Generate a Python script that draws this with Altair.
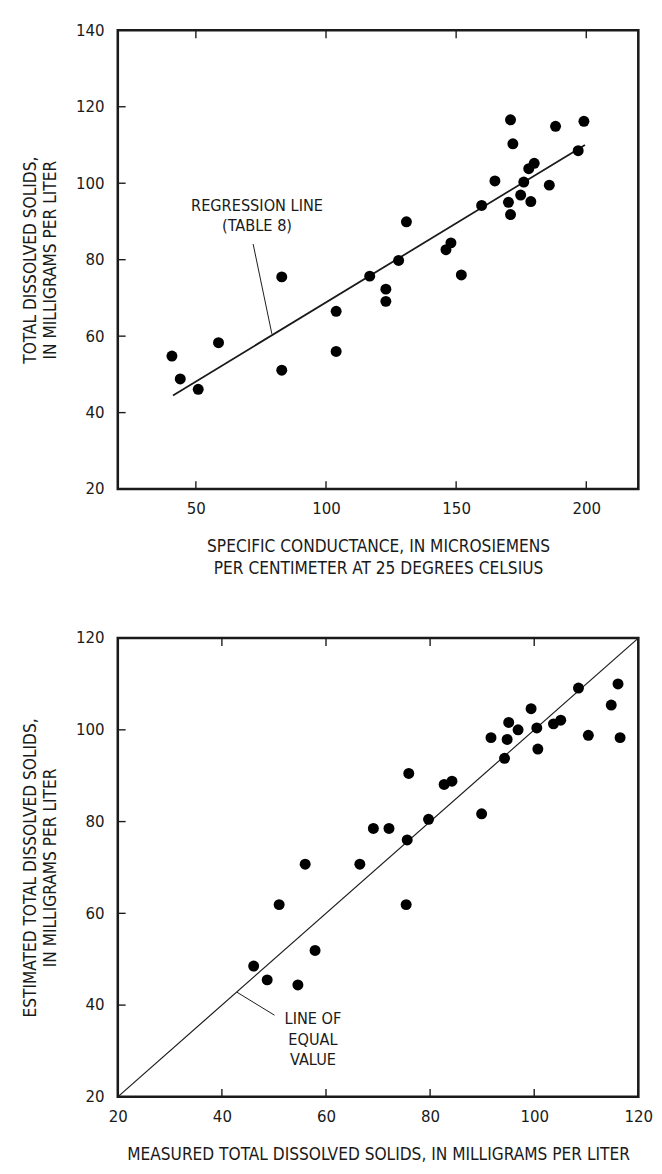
import altair as alt
import pandas as pd

# ---------- data ----------
# Top panel: specific conductance vs total dissolved solids
sc = [170.9, 199.1, 188.2, 171.8, 196.9, 180.0, 177.9, 164.9, 176.0, 185.8,
      174.8, 170.1, 178.7, 159.8, 170.9, 130.9, 148.0, 146.1, 127.9, 83.0,
      116.8, 123.0, 123.0, 103.9, 152.0, 58.7, 40.8, 44.0, 50.9, 83.0, 103.9]
tds = [116.6, 116.2, 114.9, 110.3, 108.5, 105.2, 103.8, 100.6, 100.3, 99.5,
       96.9, 95.0, 95.2, 94.2, 91.8, 89.9, 84.4, 82.6, 79.8, 75.5,
       75.7, 72.3, 69.1, 66.5, 76.0, 58.3, 54.8, 48.8, 46.1, 51.1, 56.0]

# regression line end points (as drawn)
reg_sc = [41.2, 199.5]
reg_tds = [44.5, 110.0]

# regression label and leader
reg_label_text = ["REGRESSION LINE", "(TABLE 8)"]
reg_label_sc = [73.5, 73.5]
reg_label_tds = [94.1, 88.8]
reg_leader_sc = [72.0, 79.2]
reg_leader_tds = [84.1, 60.6]

# Bottom panel: measured vs estimated TDS
measured = [108.5, 116.1, 114.8, 99.4, 95.1, 105.1, 103.7, 96.9, 100.5, 91.7,
            94.8, 110.4, 116.5, 100.7, 94.3, 75.9, 84.2, 82.7, 89.9, 79.7,
            69.1, 72.1, 75.6, 56.0, 66.5, 51.0, 75.4, 57.9, 46.1, 48.7, 54.6]
estimated = [109.1, 110.0, 105.4, 104.6, 101.6, 102.1, 101.3, 100.0, 100.4, 98.3,
             97.9, 98.8, 98.3, 95.8, 93.8, 90.5, 88.8, 88.1, 81.7, 80.5,
             78.5, 78.5, 76.0, 70.7, 70.7, 61.9, 61.9, 51.9, 48.5, 45.5, 44.4]

equal_line = [20, 120]
eq_label_text = ["LINE OF", "EQUAL", "VALUE"]
eq_label_x = [57.5, 57.5, 57.5]
eq_label_y = [36.9, 32.3, 27.9]
eq_leader_x = [42.9, 50.1]
eq_leader_y = [42.8, 37.8]

# axis ticks / domains
top_x_domain = [20, 220]
top_y_domain = [20, 140]
top_x_ticks = [50, 100, 150, 200]
top_y_ticks = [20, 40, 60, 80, 100, 120, 140]
bot_domain = [20, 120]
bot_ticks = [20, 40, 60, 80, 100, 120]

top_x_title = ["SPECIFIC CONDUCTANCE, IN MICROSIEMENS",
               "PER CENTIMETER AT 25 DEGREES CELSIUS"]
top_y_title = ["TOTAL DISSOLVED SOLIDS,", "IN MILLIGRAMS PER LITER"]
bot_x_title = "MEASURED TOTAL DISSOLVED SOLIDS, IN MILLIGRAMS PER LITER"
bot_y_title = ["ESTIMATED TOTAL DISSOLVED SOLIDS,", "IN MILLIGRAMS PER LITER"]

# ---------- styling ----------
FONT = "DejaVu Sans Condensed, Liberation Sans Narrow, Arial Narrow, sans-serif"
INK = "#1a1a1a"
DOTC = "#000000"
W, H = 531, 468
TICK = 8
FS_LABEL = 17
FS_TITLE = 17.5
DOT = 125


def panel(xname, yname, xdom, ydom, xticks, yticks, xtitle, ytitle,
          pts, extra_layers):
    xs = alt.Scale(domain=xdom, nice=False, zero=False)
    ys = alt.Scale(domain=ydom, nice=False, zero=False)
    xax = alt.Axis(values=xticks, ticks=False, tickSize=0, domain=False, grid=False,
                   labelPadding=12, title=xtitle, titlePadding=22,
                   labelFontSize=FS_LABEL, titleFontSize=FS_TITLE,
                   labelFont=FONT, titleFont=FONT, labelColor=INK, titleColor=INK,
                   titleFontWeight="normal", titleLineHeight=22, labelFlush=False)
    yax = alt.Axis(values=yticks, ticks=False, tickSize=0, domain=False, grid=False,
                   labelPadding=14, title=ytitle, titlePadding=16,
                   labelFontSize=FS_LABEL, titleFontSize=FS_TITLE,
                   labelFont=FONT, titleFont=FONT, labelColor=INK, titleColor=INK,
                   titleFontWeight="normal", titleLineHeight=21, labelFlush=False)

    base_pts = alt.Chart(pts).mark_circle(size=DOT, color=DOTC, opacity=1).encode(
        x=alt.X(f"{xname}:Q", scale=xs, axis=xax),
        y=alt.Y(f"{yname}:Q", scale=ys, axis=yax),
    )

    xt = pd.DataFrame({"v": xticks})
    yt = pd.DataFrame({"v": yticks})
    tick_top = alt.Chart(xt).mark_rule(color=INK, strokeWidth=1.4).encode(
        x=alt.X("v:Q", scale=xs), y=alt.value(0), y2=alt.value(TICK))
    tick_bot = alt.Chart(xt).mark_rule(color=INK, strokeWidth=1.4).encode(
        x=alt.X("v:Q", scale=xs), y=alt.value(H), y2=alt.value(H - TICK))
    tick_left = alt.Chart(yt).mark_rule(color=INK, strokeWidth=1.4).encode(
        y=alt.Y("v:Q", scale=ys), x=alt.value(0), x2=alt.value(TICK))

    layers = [tick_top, tick_bot, tick_left] + [l(xs, ys) for l in extra_layers] + [base_pts]
    return alt.layer(*layers).properties(width=W, height=H)


top_pts = pd.DataFrame({"sc": sc, "tds": tds})
reg_df = pd.DataFrame({"x": reg_sc, "y": reg_tds})
reg_lab = pd.DataFrame({"x": reg_label_sc, "y": reg_label_tds, "t": reg_label_text})
reg_lead = pd.DataFrame({"x": [reg_leader_sc[0]], "y": [reg_leader_tds[0]],
                         "x2": [reg_leader_sc[1]], "y2": [reg_leader_tds[1]]})


def reg_line(xs, ys):
    return alt.Chart(reg_df).mark_line(color=INK, strokeWidth=1.8).encode(
        x=alt.X("x:Q", scale=xs), y=alt.Y("y:Q", scale=ys))


def reg_text(xs, ys):
    return alt.Chart(reg_lab).mark_text(font=FONT, fontSize=FS_LABEL - 0.5, color=INK,
                                        align="center", baseline="middle").encode(
        x=alt.X("x:Q", scale=xs), y=alt.Y("y:Q", scale=ys), text="t:N")


def reg_leader(xs, ys):
    return alt.Chart(reg_lead).mark_rule(color=INK, strokeWidth=1).encode(
        x=alt.X("x:Q", scale=xs), y=alt.Y("y:Q", scale=ys), x2="x2:Q", y2="y2:Q")


bot_pts = pd.DataFrame({"m": measured, "e": estimated})
eq_df = pd.DataFrame({"x": equal_line, "y": equal_line})
eq_lab = pd.DataFrame({"x": eq_label_x, "y": eq_label_y, "t": eq_label_text})
eq_lead = pd.DataFrame({"x": [eq_leader_x[0]], "y": [eq_leader_y[0]],
                        "x2": [eq_leader_x[1]], "y2": [eq_leader_y[1]]})


def eq_line(xs, ys):
    return alt.Chart(eq_df).mark_line(color=INK, strokeWidth=1.2).encode(
        x=alt.X("x:Q", scale=xs), y=alt.Y("y:Q", scale=ys))


def eq_text(xs, ys):
    return alt.Chart(eq_lab).mark_text(font=FONT, fontSize=FS_LABEL - 0.5, color=INK,
                                       align="center", baseline="middle").encode(
        x=alt.X("x:Q", scale=xs), y=alt.Y("y:Q", scale=ys), text="t:N")


def eq_leader(xs, ys):
    return alt.Chart(eq_lead).mark_rule(color=INK, strokeWidth=1).encode(
        x=alt.X("x:Q", scale=xs), y=alt.Y("y:Q", scale=ys), x2="x2:Q", y2="y2:Q")


top = panel("sc", "tds", top_x_domain, top_y_domain, top_x_ticks, top_y_ticks,
            top_x_title, top_y_title, top_pts, [reg_line, reg_leader, reg_text])
bottom = panel("m", "e", bot_domain, bot_domain, bot_ticks, bot_ticks,
               bot_x_title, bot_y_title, bot_pts, [eq_line, eq_leader, eq_text])

chart = alt.vconcat(top, bottom, spacing=50).properties(
    padding={"left": 12, "top": 0, "right": 0, "bottom": 0},
    background="white",
).configure_view(stroke=INK, strokeWidth=2.6).resolve_scale(x="independent", y="independent")

chart.save("out.html", embed_options={"renderer": "svg", "actions": False})
